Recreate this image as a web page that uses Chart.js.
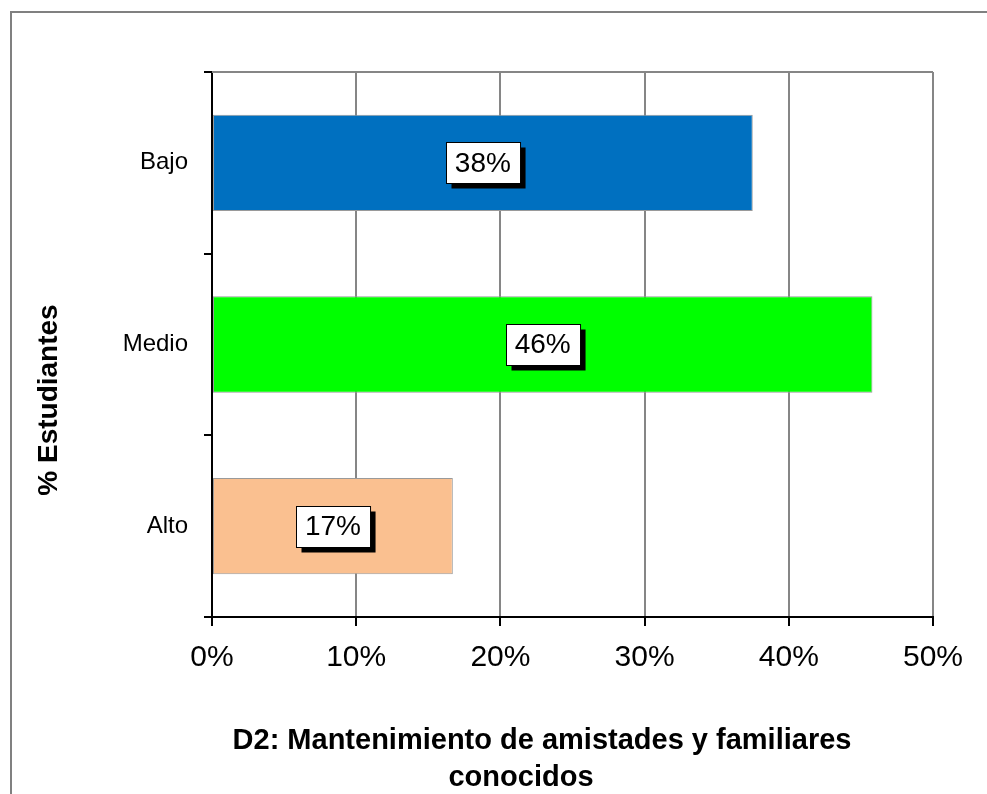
<!DOCTYPE html>
<html>
<head>
<meta charset="utf-8">
<script src="https://cdn.jsdelivr.net/npm/chart.js@4"></script>
<style>
  html, body { margin: 0; padding: 0; background: #fff; }
  #wrap { width: 987px; height: 794px; position: relative; }
</style>
</head>
<body>
<div id="wrap"><canvas id="chart" width="987" height="794"></canvas></div>
<script>
const categories = ['Bajo', 'Medio', 'Alto'];
const percents = [37.5, 45.8, 16.7];
const barColors = ['#0070C0', '#00FF00', '#FAC090'];
const xTicks = [0, 10, 20, 30, 40, 50];
const yTitle = '% Estudiantes';
const xTitle = ['D2: Mantenimiento de amistades y familiares', 'conocidos'];

const FONT = '"Liberation Sans", Arial, sans-serif';

// outer frame + top border of plot area + axis titles
const decorPlugin = {
    id: 'decor',
    beforeDraw(chart) {
        const ctx = chart.ctx;
        ctx.save();
        ctx.fillStyle = '#fff';
        ctx.fillRect(0, 0, chart.width, chart.height);
        ctx.strokeStyle = '#808080';
        ctx.lineWidth = 2;
        ctx.strokeRect(11, 12, 1100, 1000);
        ctx.restore();
    },
    afterDraw(chart) {
        const ctx = chart.ctx;
        const area = chart.chartArea;
        ctx.save();
        ctx.strokeStyle = '#868686';
        ctx.lineWidth = 2;
        ctx.beginPath();
        ctx.moveTo(area.left, area.top);
        ctx.lineTo(area.right, area.top);
        ctx.stroke();

        ctx.fillStyle = '#000';
        ctx.font = 'bold 29px ' + FONT;
        ctx.textAlign = 'center';
        ctx.textBaseline = 'alphabetic';
        ctx.fillText(xTitle[0], 542, 749);
        ctx.fillText(xTitle[1], 521, 786);

        ctx.font = 'bold 28px ' + FONT;
        ctx.translate(57, 400);
        ctx.rotate(-Math.PI / 2);
        ctx.fillText(yTitle, 0, 0);
        ctx.restore();
    }
};

// boxed value labels with a drop shadow
const boxLabels = {
    id: 'boxLabels',
    afterDatasetsDraw(chart) {
        const ctx = chart.ctx;
        const meta = chart.getDatasetMeta(0);
        ctx.save();
        ctx.font = '28px ' + FONT;
        ctx.textAlign = 'center';
        ctx.textBaseline = 'middle';
        meta.data.forEach((bar, i) => {
            const text = Math.round(percents[i]) + '%';
            const cx = (bar.x + bar.base) / 2;
            const cy = bar.y;
            const w = ctx.measureText(text).width + 18;
            const h = 41;
            const x0 = Math.round(cx - w / 2) + 0.5;
            const y0 = Math.round(cy - h / 2) + 0.5;
            ctx.fillStyle = '#000';
            ctx.fillRect(x0 + 5, y0 + 5, w, h);
            ctx.fillStyle = '#fff';
            ctx.fillRect(x0, y0, w, h);
            ctx.strokeStyle = '#000';
            ctx.lineWidth = 1;
            ctx.strokeRect(x0, y0, w, h);
            ctx.fillStyle = '#000';
            ctx.fillText(text, cx, cy + 1);
        });
        ctx.restore();
    }
};

new Chart(document.getElementById('chart'), {
    type: 'bar',
    data: {
        labels: categories,
        datasets: [{
            data: percents,
            backgroundColor: barColors,
            borderColor: '#9a9a9a',
            borderWidth: 1,
            borderSkipped: false,
            categoryPercentage: 1,
            barPercentage: 0.53
        }]
    },
    options: {
        indexAxis: 'y',
        responsive: false,
        animation: false,
        layout: { padding: { top: 72, right: 54, left: 0, bottom: 0 } },
        plugins: {
            legend: { display: false },
            tooltip: { enabled: false }
        },
        scales: {
            x: {
                min: 0,
                max: 50,
                afterFit: (scale) => { scale.height = 177; },
                afterBuildTicks: (scale) => { scale.ticks = xTicks.map(v => ({ value: v })); },
                border: { color: '#000', width: 2 },
                grid: {
                    color: (c) => c.tick && c.tick.value === 0 ? 'rgba(0,0,0,0)' : '#868686',
                    lineWidth: 2,
                    tickColor: '#000',
                    tickLength: 9
                },
                ticks: {
                    color: '#000',
                    font: { family: FONT, size: 30 },
                    padding: 14,
                    maxRotation: 0,
                    callback: (v) => v + '%'
                }
            },
            y: {
                afterFit: (scale) => { scale.width = 212; },
                border: { color: '#000', width: 2 },
                grid: {
                    drawOnChartArea: false,
                    offset: true,
                    tickColor: '#000',
                    tickLength: 8,
                    lineWidth: 2
                },
                ticks: {
                    color: '#000',
                    font: { family: FONT, size: 24 },
                    padding: 16
                }
            }
        }
    },
    plugins: [decorPlugin, boxLabels]
});
</script>
</body>
</html>
